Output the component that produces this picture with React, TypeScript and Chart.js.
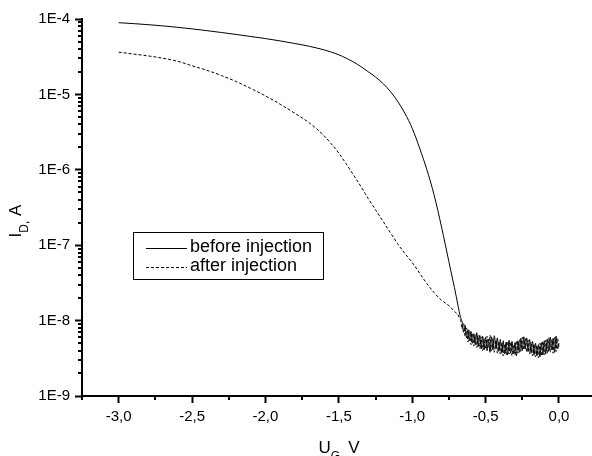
import React, { useEffect, useRef } from "react";
import { Chart, registerables } from "chart.js";

Chart.register(...registerables);

// ---- data ----
const voltage = [
  -3.0, -2.9, -2.8, -2.7, -2.6, -2.5, -2.4, -2.3, -2.2, -2.1, -2.0, -1.9, -1.8, -1.7, -1.6,
  -1.55, -1.5, -1.45, -1.4, -1.35, -1.3, -1.25, -1.2, -1.15, -1.1, -1.05, -1.0, -0.95, -0.9,
  -0.85, -0.8, -0.75, -0.7,
  -0.69, -0.68, -0.67, -0.66, -0.65, -0.64, -0.63, -0.62, -0.61, -0.6,
  -0.59, -0.58, -0.57, -0.56, -0.55, -0.54, -0.53, -0.52, -0.51, -0.5,
  -0.49, -0.48, -0.47, -0.46, -0.45, -0.44, -0.43, -0.42, -0.41, -0.4,
  -0.39, -0.38, -0.37, -0.36, -0.35, -0.34, -0.33, -0.32, -0.31, -0.3,
  -0.29, -0.28, -0.27, -0.26, -0.25, -0.24, -0.23, -0.22, -0.21, -0.2,
  -0.19, -0.18, -0.17, -0.16, -0.15, -0.14, -0.13, -0.12, -0.11, -0.1,
  -0.09, -0.08, -0.07, -0.06, -0.05, -0.04, -0.03, -0.02, -0.01, 0.0,
];

const currentBefore = [
  8.93e-5, 8.69e-5, 8.41e-5, 8.11e-5, 7.76e-5, 7.4e-5, 7.01e-5, 6.62e-5, 6.24e-5, 5.86e-5,
  5.5e-5, 5.12e-5, 4.73e-5, 4.34e-5, 3.89e-5,
  3.63e-5, 3.35e-5, 3.02e-5, 2.69e-5, 2.34e-5, 2.0e-5, 1.7e-5, 1.4e-5, 1.1e-5, 8.13e-6,
  5.62e-6, 3.55e-6, 1.95e-6, 1.0e-6, 4.57e-7, 1.74e-7, 6.03e-8, 2.09e-8,
  1.66e-8, 1.32e-8, 1.1e-8, 9.6e-9, 7.0e-9, 8.7e-9, 5.9e-9, 7.6e-9, 5.4e-9, 7.2e-9,
  5.0e-9, 6.7e-9, 4.8e-9, 6.9e-9, 4.5e-9, 6.4e-9, 4.2e-9, 6.2e-9, 4.1e-9, 6.0e-9,
  4.0e-9, 5.7e-9, 3.8e-9, 6.1e-9, 4.1e-9, 6.3e-9, 4.3e-9, 5.9e-9, 3.9e-9, 5.6e-9,
  3.7e-9, 5.4e-9, 3.6e-9, 5.2e-9, 3.5e-9, 5.5e-9, 3.7e-9, 5.3e-9, 3.6e-9, 5.1e-9,
  3.4e-9, 5.4e-9, 3.8e-9, 5.8e-9, 4.0e-9, 6.1e-9, 4.2e-9, 5.9e-9, 3.9e-9, 5.6e-9,
  3.7e-9, 5.3e-9, 3.5e-9, 5.0e-9, 3.4e-9, 4.8e-9, 3.3e-9, 5.1e-9, 3.5e-9, 5.4e-9,
  3.6e-9, 5.7e-9, 3.9e-9, 6.0e-9, 4.1e-9, 5.8e-9, 3.8e-9, 6.2e-9, 4.2e-9, 5.0e-9,
];

const currentAfter = [
  3.63e-5, 3.43e-5, 3.24e-5, 3.02e-5, 2.75e-5, 2.4e-5, 2.09e-5, 1.78e-5, 1.48e-5, 1.2e-5,
  9.55e-6, 7.41e-6, 5.62e-6, 4.17e-6, 2.82e-6,
  2.19e-6, 1.66e-6, 1.2e-6, 8.51e-7, 6.03e-7, 4.17e-7, 2.95e-7, 2.09e-7, 1.48e-7, 1.05e-7,
  7.76e-8, 5.89e-8, 4.27e-8, 3.09e-8, 2.34e-8, 1.86e-8, 1.58e-8, 1.26e-8,
  1.22e-8, 1.1e-8, 1.0e-8, 7.8e-9, 9.2e-9, 6.2e-9, 8.0e-9, 5.2e-9, 7.4e-9, 4.8e-9,
  6.8e-9, 4.6e-9, 6.5e-9, 4.4e-9, 6.3e-9, 4.3e-9, 6.1e-9, 4.0e-9, 5.8e-9, 4.2e-9,
  6.2e-9, 4.4e-9, 6.4e-9, 4.0e-9, 5.8e-9, 3.8e-9, 5.5e-9, 3.7e-9, 5.3e-9, 3.6e-9,
  5.1e-9, 3.4e-9, 4.9e-9, 3.5e-9, 5.3e-9, 3.6e-9, 5.2e-9, 3.4e-9, 4.8e-9, 3.5e-9,
  5.4e-9, 3.7e-9, 5.6e-9, 3.9e-9, 6.0e-9, 4.1e-9, 5.8e-9, 3.8e-9, 5.5e-9, 3.6e-9,
  5.2e-9, 3.4e-9, 4.9e-9, 3.3e-9, 4.7e-9, 3.2e-9, 5.0e-9, 3.4e-9, 5.3e-9, 3.5e-9,
  5.5e-9, 3.7e-9, 5.9e-9, 3.8e-9, 5.6e-9, 3.7e-9, 6.0e-9, 3.9e-9, 5.8e-9, 4.4e-9,
];

const seriesLabels = ["before injection", "after injection"];

const xTickValues = [-3.0, -2.5, -2.0, -1.5, -1.0, -0.5, 0.0];
const xTickLabels = ["-3,0", "-2,5", "-2,0", "-1,5", "-1,0", "-0,5", "0,0"];
const xMinorValues = [-3.25, -2.75, -2.25, -1.75, -1.25, -0.75, -0.25];

const yTickValues = [1e-9, 1e-8, 1e-7, 1e-6, 1e-5, 1e-4];
const yTickLabels = ["1E-9", "1E-8", "1E-7", "1E-6", "1E-5", "1E-4"];
const yMinorMultipliers = [2, 3, 4, 5, 6, 7, 8, 9];

const FONT = '"Liberation Sans", Arial, Helvetica, sans-serif';

const decorPlugin = {
  id: "decor",
  afterDraw(chart: any) {
    const ctx = chart.ctx;
    const xs = chart.scales.x;
    const ys = chart.scales.y;
    const area = chart.chartArea;
    ctx.save();
    // minor ticks
    ctx.strokeStyle = "#000";
    ctx.lineWidth = 2;
    ctx.setLineDash([]);
    ctx.beginPath();
    for (const v of xMinorValues) {
      const px = Math.round(xs.getPixelForValue(v));
      ctx.moveTo(px, area.bottom);
      ctx.lineTo(px, area.bottom + 4);
    }
    for (let i = 0; i < yTickValues.length - 1; i++) {
      for (const m of yMinorMultipliers) {
        const py = Math.round(ys.getPixelForValue(yTickValues[i] * m));
        ctx.moveTo(area.left - 4, py);
        ctx.lineTo(area.left, py);
      }
    }
    ctx.stroke();

    // legend
    const bx = 133.5, by = 232.5, bw = 190, bh = 47;
    ctx.lineWidth = 1;
    ctx.strokeRect(bx, by, bw, bh);
    const rows = [247.5, 266.5];
    chart.data.datasets.forEach((ds: any, i: number) => {
      const y = Math.round(rows[i]) + 0.5;
      ctx.setLineDash(ds.borderDash || []);
      ctx.lineWidth = 1;
      ctx.strokeStyle = ds.borderColor;
      ctx.beginPath();
      ctx.moveTo(146, y);
      ctx.lineTo(187, y);
      ctx.stroke();
      ctx.setLineDash([]);
      ctx.fillStyle = "#000";
      ctx.font = `18px ${FONT}`;
      ctx.textBaseline = "middle";
      ctx.textAlign = "left";
      ctx.fillText(ds.label, 190, rows[i]);
    });

    // x axis title: U_G, V
    ctx.fillStyle = "#000";
    ctx.textBaseline = "alphabetic";
    ctx.textAlign = "left";
    const big = `17px ${FONT}`;
    const small = `12px ${FONT}`;
    ctx.font = big;
    const wU = ctx.measureText("U").width;
    const wV = ctx.measureText(" V").width;
    ctx.font = small;
    const wG = ctx.measureText("G,").width;
    const totalX = wU + wG + wV;
    const cx = (area.left + area.right) / 2 + 2;
    let tx = cx - totalX / 2;
    const baseX = 453;
    ctx.font = big;
    ctx.fillText("U", tx, baseX);
    tx += wU;
    ctx.font = small;
    ctx.fillText("G,", tx, baseX + 7);
    tx += wG;
    ctx.font = big;
    ctx.fillText(" V", tx, baseX);

    // y axis title: I_D, A (rotated)
    ctx.font = big;
    const wI = ctx.measureText("I").width;
    const wA = ctx.measureText(" A").width;
    ctx.font = small;
    const wD = ctx.measureText("D,").width;
    const totalY = wI + wD + wA;
    ctx.translate(21, 221);
    ctx.rotate(-Math.PI / 2);
    let ty = -totalY / 2;
    ctx.font = big;
    ctx.fillText("I", ty, 0);
    ty += wI;
    ctx.font = small;
    ctx.fillText("D,", ty, 7);
    ty += wD;
    ctx.font = big;
    ctx.fillText(" A", ty, 0);
    ctx.restore();
  },
};

export default function App() {
  const canvasRef = useRef<HTMLCanvasElement | null>(null);

  useEffect(() => {
    const canvas = canvasRef.current;
    if (!canvas) return;
    const chart = new Chart(canvas, {
      type: "line",
      data: {
        datasets: [
          {
            label: seriesLabels[0],
            data: voltage.map((v, i) => ({ x: v, y: currentBefore[i] })),
            borderColor: "#000",
            borderWidth: 1,
            pointRadius: 0,
            cubicInterpolationMode: "monotone",
            fill: false,
          },
          {
            label: seriesLabels[1],
            data: voltage.map((v, i) => ({ x: v, y: currentAfter[i] })),
            borderColor: "#000",
            borderWidth: 1,
            borderDash: [3, 2],
            pointRadius: 0,
            cubicInterpolationMode: "monotone",
            fill: false,
          },
        ],
      },
      options: {
        animation: false,
        responsive: false,
        devicePixelRatio: 1,
        layout: { padding: { top: 19, right: 0, bottom: 0, left: 0 } },
        plugins: { legend: { display: false }, tooltip: { enabled: false }, title: { display: false } },
        scales: {
          x: {
            type: "linear",
            min: -3.25,
            max: 0.225,
            afterBuildTicks: (scale: any) => {
              scale.ticks = xTickValues.map((v) => ({ value: v }));
            },
            afterFit: (scale: any) => {
              scale.height = 60;
              scale.paddingLeft = 0;
              scale.paddingRight = 0;
            },
            ticks: {
              autoSkip: false,
              maxRotation: 0,
              minRotation: 0,
              padding: 5,
              color: "#000",
              font: { family: FONT, size: 15 },
              callback: (_v: any, i: number) => xTickLabels[i],
            },
            grid: {
              display: true,
              drawOnChartArea: false,
              drawTicks: true,
              tickLength: 7,
              tickWidth: 2,
              tickColor: "#000",
              color: "#000",
            },
            border: { display: true, color: "#000", width: 2 },
          },
          y: {
            type: "logarithmic",
            min: 1e-9,
            max: 1e-4,
            afterBuildTicks: (scale: any) => {
              scale.ticks = yTickValues.map((v) => ({ value: v, major: true }));
            },
            afterFit: (scale: any) => {
              scale.width = 82;
              scale.paddingTop = 0;
              scale.paddingBottom = 0;
            },
            ticks: {
              autoSkip: false,
              padding: 5,
              color: "#000",
              font: { family: FONT, size: 15 },
              callback: (_v: any, i: number) => yTickLabels[i],
            },
            grid: {
              display: true,
              drawOnChartArea: false,
              drawTicks: true,
              tickLength: 7,
              tickWidth: 2,
              tickColor: "#000",
              color: "#000",
            },
            border: { display: true, color: "#000", width: 2 },
          },
        },
      },
      plugins: [decorPlugin],
    } as any);
    return () => chart.destroy();
  }, []);

  return (
    <div style={{ position: "absolute", left: 0, top: 0, width: 592, height: 456, background: "#fff" }}>
      <canvas ref={canvasRef} width={592} height={456} style={{ display: "block", width: 592, height: 456 }} />
    </div>
  );
}
